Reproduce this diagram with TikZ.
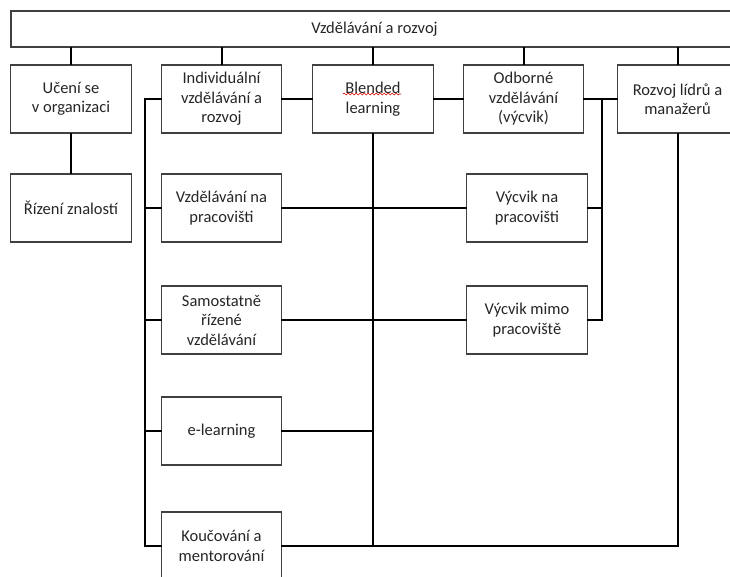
\documentclass[tikz,border=0pt]{standalone}
\usepackage{fontspec}
\setmainfont{Carlito}
\usetikzlibrary{decorations.pathmorphing}

\begin{document}
\begin{tikzpicture}[x=1pt, y=-1pt,
	box/.style={draw=black!75, line width=1.1pt, fill=white, text=black!85,
		minimum width=120.5pt, minimum height=68pt, inner sep=2pt,
		align=center, font=\fontsize{16.5}{19.5}\selectfont},
	link/.style={line width=2pt, line cap=rect}]

		% Frame
		\clip (0,0) rectangle (730,577);
		\useasboundingbox (0,0) rectangle (730,577);

		% Top
		\node[box, minimum width=727pt, minimum height=36pt] (top) at (374.5,29) {Vzdělávání a rozvoj};

		% First row
		\node[box] (uce) at (71,99) {Učení se\\v organizaci};
		\node[box] (ind) at (221.5,99) {Individuální\\vzdělávání a\\rozvoj};
		\node[box] (ble) at (373,99) {Blended\\learning};
		\node[box] (odb) at (523.5,99) {Odborné\\vzdělávání\\(výcvik)};
		\node[box] (roz) at (677.5,99) {Rozvoj lídrů a\\manažerů};

		% Lower boxes
		\node[box] (riz) at (71,208) {Řízení znalostí};
		\node[box] (vzd) at (221.5,208) {Vzdělávání na\\pracovišti};
		\node[box] (vna) at (527,208) {Výcvik na\\pracovišti};
		\node[box] (sam) at (221.5,320) {Samostatně\\řízené\\vzdělávání};
		\node[box] (vmi) at (527,320) {Výcvik mimo\\pracoviště};
		\node[box] (elr) at (221.5,431) {e-learning};
		\node[box] (kou) at (221.5,546) {Koučování a\\mentorování};

		% Bus lines
		\coordinate (lbus) at (145,0);
		\coordinate (rbus) at (602,0);

		% From the top box
		\foreach \n in {uce,ind,ble,odb,roz}
			\draw[link] (\n.north) -- (\n.north |- top.south);
		\draw[link] (uce) -- (riz);

		% First row links
		\draw[link] (ind) -- (ble);
		\draw[link] (ble) -- (odb);
		\draw[link] (odb) -- (roz);

		% Left bus
		\draw[link] (ind.west) -- (ind.west -| lbus) -- (kou.west -| lbus) -- (kou.west);
		\foreach \n in {vzd,sam,elr}
			\draw[link] (\n.west) -- (\n.west -| lbus);

		% Right bus
		\draw[link] (odb.east -| rbus) -- (vmi.east -| rbus) -- (vmi.east);
		\draw[link] (vna.east) -- (vna.east -| rbus);

		% Across
		\draw[link] (vzd) -- (vna);
		\draw[link] (sam) -- (vmi);
		\draw[link] (ble.south) -- (ble.south |- kou.east);
		\draw[link] (elr.east) -- (elr.east -| ble.south);
		\draw[link] (kou.east) -- (kou.east -| roz.south) -- (roz.south);

		% Spell check mark
		\draw[red!85!black, line width=0.6pt, decorate,
			decoration={snake, amplitude=0.9pt, segment length=4pt}]
			([shift={(-30,-5)}]ble.center) -- ([shift={(28,-5)}]ble.center);

	\end{tikzpicture}
\end{document}
